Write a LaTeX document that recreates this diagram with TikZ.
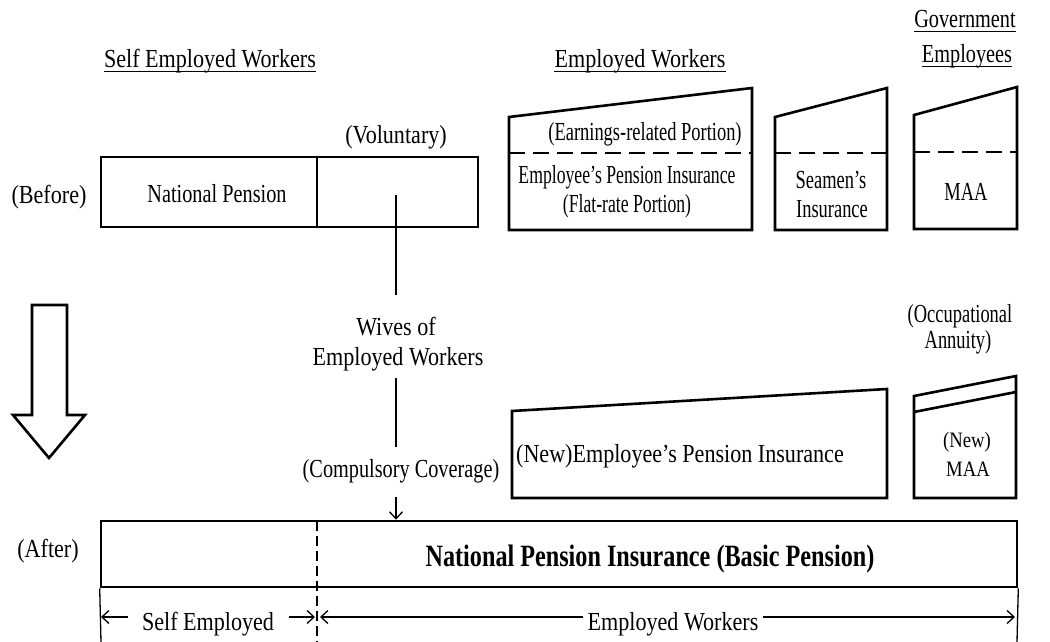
\documentclass[tikz,border=0pt]{standalone}
\usepackage{fontspec}
\setmainfont{Liberation Serif}
\newfontfamily\fh{Liberation Serif}[FakeStretch=0.85]
\newfontfamily\fm{Liberation Serif}[FakeStretch=0.78]
\newfontfamily\fb{Liberation Serif}[FakeStretch=0.71]
\newfontfamily\fc{Liberation Serif}[FakeStretch=0.68]
\usetikzlibrary{arrows.meta}
\begin{document}
\begin{tikzpicture}[x=1pt,y=-1pt,
  box/.style={line width=2.6pt, line join=miter},
  thinline/.style={line width=1.3pt},
  dsh/.style={line width=2.4pt, dash pattern=on 16pt off 8pt},
  vdsh/.style={line width=1.3pt, dash pattern=on 10pt off 5pt},
  arr/.style={line width=1.3pt, -{Straight Barb[length=7pt,width=13pt,line width=1.3pt]}},
  ul/.style={line width=1.3pt},
  th/.style={inner sep=0pt, anchor=base, font=\fh\fontsize{26}{30}\selectfont},
  tm/.style={inner sep=0pt, anchor=base, font=\fm\fontsize{26}{30}\selectfont},
  tb/.style={inner sep=0pt, anchor=base, font=\fb\fontsize{26}{30}\selectfont},
  tc/.style={inner sep=0pt, anchor=base, font=\fc\fontsize{26}{30}\selectfont},
  ts/.style={inner sep=0pt, anchor=base, font=\fh\fontsize{22}{26}\selectfont},
  tbig/.style={inner sep=0pt, anchor=base, font=\fm\bfseries\fontsize{31}{36}\selectfont}]
\useasboundingbox (0,0) rectangle (1050,642);

% ---------- headings ----------
\node[th] (hSelf) at (210,68) {Self Employed Workers};
\node[th] (hEmp) at (640,68) {Employed Workers};
\node[tm] (hGov1) at (965,28) {Government};
\node[tm] (hGov2) at (967,63) {Employees};
\foreach \n in {hSelf,hEmp,hGov1,hGov2}
  \draw[ul] ([yshift=-3.5pt]\n.base west) -- ([yshift=-3.5pt]\n.base east);

% ---------- before ----------
\node[th] (before) at (49,203) {(Before)};
\node[th] (vol) at (396,143) {(Voluntary)};
\draw[box] (101,157) rectangle (478,227);
\draw[box] (317,157) -- (317,227);
\node[tm] (np) at (217,202) {National Pension};

\draw[box] (509,117) -- (752,88) -- (752,230) -- (509,230) -- cycle;
\draw[dsh] (509,153) -- (752,153);
\node[tb] (earn) at (645,140) {(Earnings-related Portion)};
\node[tc] (epi1) at (627,183) {Employee’s Pension Insurance};
\node[tc] (epi2) at (627,212) {(Flat-rate Portion)};

\draw[box] (775,117) -- (887,88) -- (887,230) -- (775,230) -- cycle;
\draw[dsh] (775,153) -- (887,153);
\node[tb] (sea1) at (831,188) {Seamen’s};
\node[tb] (sea2) at (832,217) {Insurance};

\draw[box] (914,115) -- (1017,87) -- (1017,229) -- (914,229) -- cycle;
\draw[dsh] (914,152) -- (1017,152);
\node[tb] (maa) at (966,200) {MAA};

% ---------- transition ----------
\draw[box] (32,305) -- (67,305) -- (67,415) -- (85,415) -- (49,458) -- (13,415) -- (32,415) -- cycle;

\coordinate (c1) at (396,195);
\coordinate (c2) at (396,295);
\coordinate (c3) at (396,378);
\coordinate (c4) at (396,447);
\coordinate (c5) at (396,497);
\draw[thinline] (c1) -- (c2);
\node[th] (wives1) at (396,335) {Wives of};
\node[th] (wives2) at (398,365) {Employed Workers};
\draw[thinline] (c3) -- (c4);
\node[tm] (comp) at (401,477) {(Compulsory Coverage)};

% ---------- after (upper tier) ----------
\node[tb] (occ1) at (960,322) {(Occupational};
\node[tb] (occ2) at (958,348) {Annuity)};
\draw[box] (512,411) -- (887,389) -- (887,498) -- (512,498) -- cycle;
\node[th] (nepi) at (680,462) {(New)Employee’s Pension Insurance};
\draw[box] (914,396) -- (1016,376) -- (1016,498) -- (914,498) -- cycle;
\draw[box] (914,412) -- (1016,392);
\node[ts] (nmaa1) at (967,447) {(New)};
\node[ts] (nmaa2) at (968,476) {MAA};

% ---------- after (basic pension) ----------
\node[th] (after) at (48,557) {(After)};
\node[box, draw, inner sep=0pt, minimum width=916pt, minimum height=66pt] (npi) at (559,554) {};
\node[tbig] (npit) at (650,566) {National Pension Insurance (Basic Pension)};
\draw[arr] (c5) -- (c5 |- npi.north);

\draw[vdsh] (317,521) -- (317,642);
\draw[thinline] (npi.south west) -- (101,642);
\draw[thinline] (npi.south east) -- (1017,642);

\node[th] (se) at (208,630) {Self Employed};
\node[th] (ew) at (673,630) {Employed Workers};
\coordinate (d1) at (128,617);
\coordinate (d0) at (101,617);
\coordinate (d2) at (289,617);
\coordinate (d3) at (315,617);
\coordinate (d4) at (583,617);
\coordinate (d5) at (320,617);
\coordinate (d6) at (763,617);
\coordinate (d7) at (1015,617);
\draw[arr] (d1) -- (d0);
\draw[arr] (d2) -- (d3);
\draw[arr] (d4) -- (d5);
\draw[arr] (d6) -- (d7);
\end{tikzpicture}
\end{document}
